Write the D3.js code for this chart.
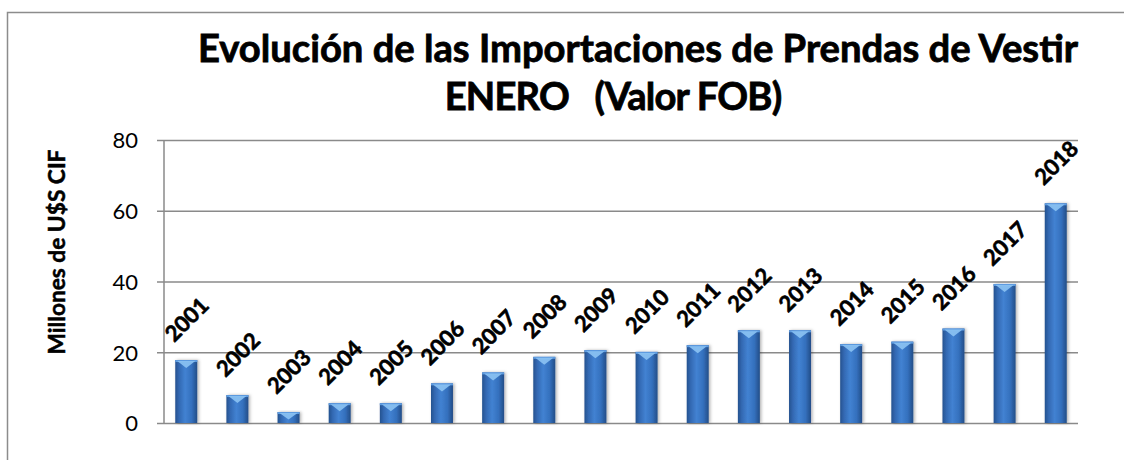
<!DOCTYPE html>
<html>
<head>
<meta charset="utf-8">
<script src="https://cdn.jsdelivr.net/npm/d3@7"></script>
<style>
  body { margin: 0; background: #fff; }
  svg { display: block; }
  text { font-family: Lato, "Open Sans", sans-serif; }
</style>
</head>
<body>
<svg id="svg" width="1124" height="460"></svg>
<script>
// data
var years = ["2001","2002","2003","2004","2005","2006","2007","2008","2009",
             "2010","2011","2012","2013","2014","2015","2016","2017","2018"];
var values = [17.8, 7.9, 3.1, 5.6, 5.6, 11.2, 14.3, 18.7, 20.6,
              20.1, 22.0, 26.2, 26.2, 22.3, 23.0, 26.7, 39.3, 62.1];
var yTicks = [0, 20, 40, 60, 80];
var titleLines = ["Evolución de las Importaciones de Prendas de Vestir", "ENERO   (Valor FOB)"];
var yLabel = "Millones de U$S CIF";

var svg = d3.select("#svg");
var data = years.map(function(y, i) { return {year: y, value: values[i]}; });

var plotL = 164, plotR = 1078, plotT = 140, plotB = 423;

// fit a text element to a target width
function fit(sel, target) {
    var n = sel.node();
    var fs = parseFloat(sel.attr("font-size"));
    var w = n.getComputedTextLength();
    sel.attr("font-size", (fs * target / w).toFixed(2));
}

//////// DEFS //////////
var defs = svg.append("defs");
var grad = defs.append("linearGradient").attr("id", "barGrad")
    .attr("x1", "0%").attr("x2", "100%").attr("y1", "0%").attr("y2", "0%");
grad.append("stop").attr("offset", "0%").attr("stop-color", "#25528f");
grad.append("stop").attr("offset", "18%").attr("stop-color", "#3369b3");
grad.append("stop").attr("offset", "45%").attr("stop-color", "#4282d2");
grad.append("stop").attr("offset", "75%").attr("stop-color", "#3470bd");
grad.append("stop").attr("offset", "100%").attr("stop-color", "#234d87");

var shadow = defs.append("filter").attr("id", "shadow")
    .attr("x", "-50%").attr("y", "-10%").attr("width", "200%").attr("height", "120%");
shadow.append("feDropShadow").attr("dx", 1.5).attr("dy", 0).attr("stdDeviation", 1.8)
    .attr("flood-color", "#000").attr("flood-opacity", 0.3);

// chart border
svg.append("rect")
    .attr("x", 7.5).attr("y", 12.5)
    .attr("width", 1140).attr("height", 470)
    .attr("fill", "none")
    .attr("stroke", "#8c8c8c")
    .attr("stroke-width", 1.5);

//////// SCALES //////////
var x = d3.scaleBand().domain(years).range([plotL, plotR])
    .paddingInner(0.57).paddingOuter(0.22);
var y = d3.scaleLinear().domain([0, 80]).range([plotB, plotT]);

//////// GRID + AXIS //////////
var yAxis = d3.axisLeft(y).tickValues(yTicks).tickSize(-(plotR - plotL)).tickPadding(26);
var ga = svg.append("g").attr("transform", "translate(" + plotL + ",0)").call(yAxis);
ga.select(".domain").remove();
ga.selectAll(".tick line")
    .attr("x1", -7)
    .attr("stroke", "#8a8a8a")
    .attr("stroke-width", 1.5);
ga.selectAll(".tick text")
    .attr("font-size", 22)
    .attr("font-family", "Lato, sans-serif")
    .attr("fill", "#000")
    .attr("dy", "0.36em");

// vertical axis line
svg.append("line")
    .attr("x1", plotL).attr("x2", plotL)
    .attr("y1", y(80)).attr("y2", y(0))
    .attr("stroke", "#8a8a8a")
    .attr("stroke-width", 1.5);

//////// BARS //////////
var bars = svg.append("g").selectAll("g").data(data).enter().append("g");
bars.append("rect")
    .attr("x", function(d) { return x(d.year); })
    .attr("y", function(d) { return y(d.value); })
    .attr("width", x.bandwidth())
    .attr("height", function(d) { return y(0) - y(d.value); })
    .attr("fill", "url(#barGrad)")
    .attr("filter", "url(#shadow)");
// light top edge
bars.append("rect")
    .attr("x", function(d) { return x(d.year); })
    .attr("y", function(d) { return y(d.value); })
    .attr("width", x.bandwidth())
    .attr("height", 2)
    .attr("fill", "#5d9be0");
// bevel chevron at top
bars.append("path")
    .attr("d", function(d) {
        var x0 = x(d.year), w = x.bandwidth(), t = y(d.value);
        var h = Math.min(7, (y(0) - t) * 0.6);
        return "M" + (x0 + 2) + "," + (t + 1) + "L" + (x0 + w - 2) + "," + (t + 1) +
               "L" + (x0 + w / 2) + "," + (t + 1 + h) + "Z";
    })
    .attr("fill", "#8cc3f3")
    .attr("opacity", 0.9);

//////// YEAR LABELS //////////
bars.append("text")
    .attr("transform", function(d) {
        var cx = x(d.year) + x.bandwidth() / 2;
        return "translate(" + (cx - 12) + "," + (y(d.value) - 17) + ")rotate(-45)";
    })
    .attr("font-size", 22)
    .attr("font-weight", "bold")
    .attr("fill", "#000")
    .attr("stroke", "#000")
    .attr("stroke-width", 0.6)
    .text(function(d) { return d.year; });

//////// TITLE //////////
var t1 = svg.append("text")
    .attr("x", 638).attr("y", 62)
    .attr("text-anchor", "middle")
    .attr("font-size", 33)
    .attr("font-weight", "bold")
    .attr("stroke", "#000")
    .attr("stroke-width", 0.8)
    .text(titleLines[0]);
fit(t1, 880);
var t2 = svg.append("text")
    .attr("x", 613).attr("y", 110)
    .attr("text-anchor", "middle")
    .attr("font-size", t1.attr("font-size"))
    .attr("font-weight", "bold")
    .attr("stroke", "#000")
    .attr("stroke-width", 0.8)
    .attr("letter-spacing", -0.8)
    .attr("xml:space", "preserve")
    .style("white-space", "pre")
    .text(titleLines[1]);

//////// Y LABEL //////////
var yl = svg.append("text")
    .attr("transform", "translate(65,252)rotate(-90)")
    .attr("text-anchor", "middle")
    .attr("font-size", 17)
    .attr("font-weight", "bold")
    .attr("stroke", "#000")
    .attr("stroke-width", 0.5)
    .text(yLabel);
fit(yl, 205);
</script>
</body>
</html>
